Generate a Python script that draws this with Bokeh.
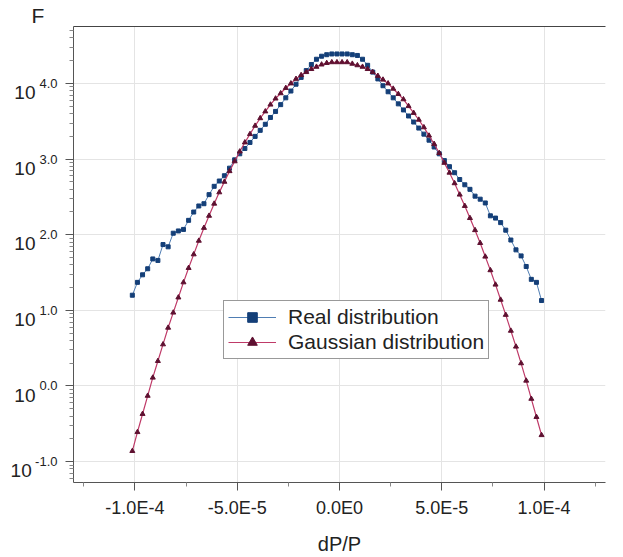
from bokeh.plotting import figure
from bokeh.models import (FixedTicker, CustomJSTickFormatter, Legend, LegendItem,
                          LinearAxis, LogAxis, Range1d)
from bokeh.embed import file_html
from bokeh.resources import INLINE

# ---------------- data ----------------
# dP/P bin centres, in units of 1e-5
x_e5 = [-10.125, -9.875, -9.625, -9.375, -9.125, -8.875, -8.625, -8.375, -8.125, -7.875,
        -7.625, -7.375, -7.125, -6.875, -6.625, -6.375, -6.125, -5.875, -5.625, -5.375,
        -5.125, -4.875, -4.625, -4.375, -4.125, -3.875, -3.625, -3.375, -3.125, -2.875,
        -2.625, -2.375, -2.125, -1.875, -1.625, -1.375, -1.125, -0.875, -0.625, -0.375,
        -0.125, 0.125, 0.375, 0.625, 0.875, 1.125, 1.375, 1.625, 1.875, 2.125,
        2.375, 2.625, 2.875, 3.125, 3.375, 3.625, 3.875, 4.125, 4.375, 4.625,
        4.875, 5.125, 5.375, 5.625, 5.875, 6.125, 6.375, 6.625, 6.875, 7.125,
        7.375, 7.625, 7.875, 8.125, 8.375, 8.625, 8.875, 9.125, 9.375, 9.625, 9.875]

# log10(F) of the real distribution
real_log10F = [1.20, 1.37, 1.47, 1.55, 1.68, 1.66, 1.87, 1.84, 2.02, 2.05,
               2.07, 2.19, 2.30, 2.38, 2.41, 2.53, 2.64, 2.71, 2.78, 2.88,
               2.99, 3.07, 3.14, 3.22, 3.30, 3.38, 3.46, 3.55, 3.63, 3.72,
               3.81, 3.90, 3.99, 4.08, 4.17, 4.25, 4.32, 4.36, 4.38, 4.39,
               4.39, 4.39, 4.39, 4.38, 4.37, 4.32, 4.24, 4.15, 4.06, 3.97,
               3.89, 3.81, 3.73, 3.65, 3.57, 3.49, 3.41, 3.33, 3.25, 3.16,
               3.07, 2.98, 2.90, 2.82, 2.73, 2.66, 2.60, 2.51, 2.47, 2.42,
               2.25, 2.22, 2.16, 2.06, 1.93, 1.80, 1.72, 1.58, 1.41, 1.37, 1.13]

# log10(F) of the gaussian distribution
gauss_log10F = [-0.86, -0.61, -0.37, -0.13, 0.11, 0.33, 0.55, 0.77, 0.97, 1.17,
                1.37, 1.56, 1.74, 1.92, 2.09, 2.25, 2.41, 2.56, 2.70, 2.84,
                2.97, 3.10, 3.22, 3.33, 3.44, 3.54, 3.63, 3.72, 3.80, 3.87,
                3.94, 4.00, 4.06, 4.11, 4.15, 4.19, 4.22, 4.25, 4.27, 4.28,
                4.28, 4.28, 4.28, 4.26, 4.24, 4.22, 4.19, 4.15, 4.10, 4.05,
                4.00, 3.93, 3.86, 3.79, 3.70, 3.61, 3.52, 3.42, 3.31, 3.20,
                3.08, 2.95, 2.82, 2.68, 2.53, 2.38, 2.22, 2.06, 1.89, 1.71,
                1.53, 1.34, 1.14, 0.94, 0.73, 0.52, 0.30, 0.07, -0.17, -0.41, -0.65]

x_tick_vals = [-1.0e-4, -5.0e-5, 0.0, 5.0e-5, 1.0e-4]
x_tick_labels = ["-1.0E-4", "-5.0E-5", "0.0E0", "5.0E-5", "1.0E-4"]
x_minor_vals = [-1.25e-4, -7.5e-5, -2.5e-5, 2.5e-5, 7.5e-5, 1.25e-4]
y_tick_exps = [-1, 0, 1, 2, 3, 4]
y_tick_exp_labels = ["-1.0", "0.0", "1.0", "2.0", "3.0", "4.0"]

series_names = ["Real distribution", "Gaussian distribution"]

# ---------------- derived ----------------
xs = [v * 1e-5 for v in x_e5]
real_F = [10 ** v for v in real_log10F]
gauss_F = [10 ** v for v in gauss_log10F]
y_major = [10 ** e for e in y_tick_exps]
y_minor = [m * 10 ** e for e in range(-2, 5) for m in range(2, 10)]

FONT = "Liberation Sans"
AX = "#555555"
TXT = "#222222"

p = figure(width=623, height=557, output_backend="svg", toolbar_location=None,
           y_axis_type="log",
           x_range=Range1d(-1.3e-4, 1.3e-4),
           y_range=Range1d(10 ** -1.276, 10 ** 4.753),
           min_border_left=73, min_border_right=18, min_border_top=26, min_border_bottom=72)
p.outline_line_color = None
p.background_fill_color = "white"
p.border_fill_color = "white"

# title "F" (y quantity) at top-left
p.title.text = "F"
p.title.align = "left"
p.title.offset = -42
p.title.standoff = 0
p.title.text_font = FONT
p.title.text_font_size = "21px"
p.title.text_font_style = "normal"
p.title.text_color = TXT

# x axis
xa = p.xaxis[0]
xa.ticker = FixedTicker(ticks=x_tick_vals, minor_ticks=x_minor_vals)
xa.formatter = CustomJSTickFormatter(
    args=dict(vals=x_tick_vals, labs=x_tick_labels),
    code="const i = vals.findIndex(v => Math.abs(v - tick) < 1e-12); return i >= 0 ? labs[i] : '';")
xa.axis_label = "dP/P"
xa.axis_label_text_font = FONT
xa.axis_label_text_font_style = "normal"
xa.axis_label_text_font_size = "20px"
xa.axis_label_text_color = TXT
xa.axis_label_standoff = 12
xa.major_label_text_font = FONT
xa.major_label_text_font_size = "18px"
xa.major_label_text_color = TXT
xa.major_label_standoff = 7

# y axis (log): inner axis carries ticks + exponent labels
ya = p.yaxis[0]
ya.ticker = FixedTicker(ticks=y_major, minor_ticks=y_minor)
ya.formatter = CustomJSTickFormatter(
    args=dict(exps=y_tick_exps, labs=y_tick_exp_labels),
    code="const i = exps.indexOf(Math.round(Math.log10(tick))); return i >= 0 ? labs[i] : '';")
ya.major_label_text_font = FONT
ya.major_label_text_font_size = "13px"
ya.major_label_text_color = TXT
ya.major_label_standoff = 8

for ax in (xa, ya):
    ax.axis_line_color = AX
    ax.axis_line_width = 1
    ax.major_tick_line_color = AX
    ax.minor_tick_line_color = "#888888"
    ax.major_tick_out = 8
    ax.major_tick_in = 0
    ax.minor_tick_out = 4
    ax.minor_tick_in = 0

# outer axis carries the base "10" of each 10^e label (second line -> sits lower)
ybase = LogAxis(ticker=FixedTicker(ticks=y_major, minor_ticks=[]),
                formatter=CustomJSTickFormatter(
                    args=dict(exps=y_tick_exps, labs=y_tick_exp_labels),
                    code="const i = exps.indexOf(Math.round(Math.log10(tick)));"
                         "const neg = i >= 0 && labs[i].startsWith('-');"
                         "return neg ? '\\n10\\u2009' : '\\n10';"),
                axis_line_color=None, major_tick_line_color=None, minor_tick_line_color=None,
                major_tick_out=0, major_tick_in=0, minor_tick_out=0, minor_tick_in=0,
                major_label_standoff=-3, major_label_text_font=FONT,
                major_label_text_font_size="19px", major_label_text_color=TXT,
                major_label_text_line_height=0.86)
p.add_layout(ybase, "left")

# top border line
top = LinearAxis(ticker=FixedTicker(ticks=[]), axis_line_color="#444444",
                 major_tick_line_color=None, minor_tick_line_color=None,
                 major_tick_out=0, major_tick_in=0, minor_tick_out=0, minor_tick_in=0,
                 major_label_standoff=0, major_label_text_font_size="0px")
p.add_layout(top, "above")

p.xgrid.grid_line_color = "#e4e4e4"
p.ygrid.grid_line_color = "#e4e4e4"

# series
r1l = p.line(xs, real_F, line_color="#4f7db3", line_width=1)
r1m = p.scatter(xs, real_F, marker="square", size=4, fill_color="#143f78", line_color="#143f78")
r2l = p.line(xs, gauss_F, line_color="#bf3a68", line_width=1.2)
r2m = p.scatter(xs, gauss_F, marker="triangle", size=5, fill_color="#5e1030", line_color="#5e1030")

legend = Legend(items=[LegendItem(label=series_names[0], renderers=[r1l, r1m]),
                       LegendItem(label=series_names[1], renderers=[r2l, r2m])],
                location=(150, 123), orientation="vertical",
                label_text_font=FONT, label_text_font_size="21px", label_text_color=TXT,
                glyph_width=48, glyph_height=24, label_height=24, label_standoff=12,
                spacing=1, padding=4, margin=0,
                border_line_color="#333333", border_line_width=1,
                background_fill_color="white", background_fill_alpha=1.0)
p.add_layout(legend)

with open("out.html", "w") as f:
    f.write(file_html(p, INLINE))
